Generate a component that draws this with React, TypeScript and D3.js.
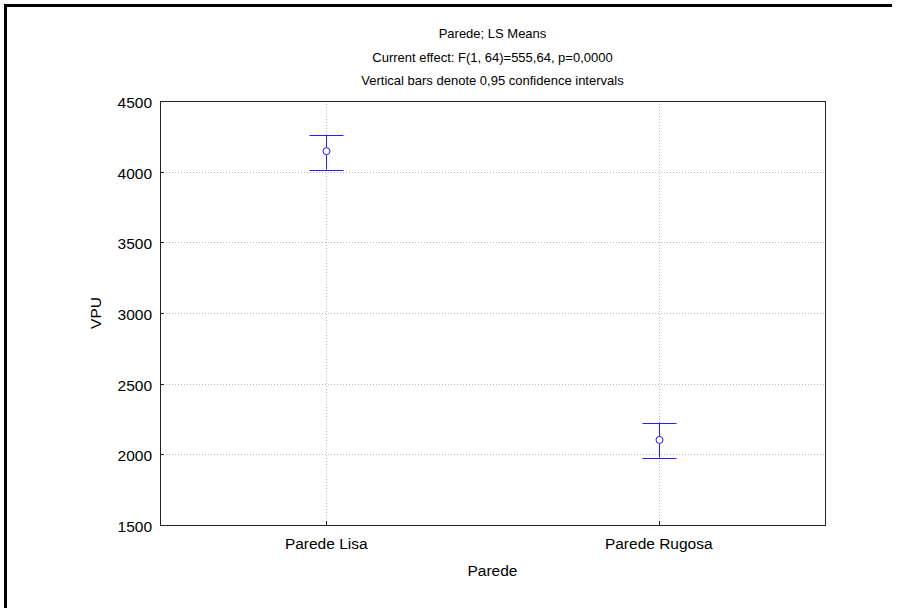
import React, { useEffect, useRef } from "react";
import * as d3 from "d3";

const titleLines = [
  "Parede; LS Means",
  "Current effect: F(1, 64)=555,64, p=0,0000",
  "Vertical bars denote 0,95 confidence intervals",
];
const categories = ["Parede Lisa", "Parede Rugosa"];
const means = [4145, 2102];
const lowerCI = [4015, 1976];
const upperCI = [4258, 2224];
const yTicks = [1500, 2000, 2500, 3000, 3500, 4000, 4500];

const App: React.FC = () => {
  const svgRef = useRef<SVGSVGElement | null>(null);

  useEffect(() => {
    if (!svgRef.current) return;
    const svg = d3.select(svgRef.current);
    svg.selectAll("*").remove();

    const width = 901;
    const height = 608;
    const margin = { top: 101, right: 76, bottom: 83, left: 160 };
    const plotWidth = width - margin.left - margin.right;
    const plotHeight = height - margin.top - margin.bottom;
    const font = "'Liberation Sans', Arial, sans-serif";
    const axisFont = "15.5px";

    svg.attr("width", width).attr("height", height).style("font-family", font);

    // outer frame (top and left only)
    svg
      .append("path")
      .attr("d", `M5.5,${height} L5.5,5.5 L892,5.5`)
      .attr("fill", "none")
      .attr("stroke", "#000")
      .attr("stroke-width", 3);

    // title
    svg
      .selectAll("text.title")
      .data(titleLines)
      .enter()
      .append("text")
      .attr("class", "title")
      .attr("x", margin.left + plotWidth / 2)
      .attr("y", (_, i) => 38 + i * 23.5)
      .attr("text-anchor", "middle")
      .style("font-size", "13px")
      .text((d) => d);

    const g = svg
      .append("g")
      .attr("transform", `translate(${margin.left},${margin.top})`);

    const xScale = d3
      .scalePoint<string>()
      .domain(categories)
      .range([0, plotWidth])
      .padding(0.5);

    const yScale = d3.scaleLinear().domain([1500, 4500]).range([plotHeight, 0]);

    // gridlines
    g.selectAll("line.hgrid")
      .data(yTicks.slice(1, -1))
      .enter()
      .append("line")
      .attr("x1", 0)
      .attr("x2", plotWidth)
      .attr("y1", (d) => Math.round(yScale(d)) + 0.5)
      .attr("y2", (d) => Math.round(yScale(d)) + 0.5)
      .attr("stroke", "#b8b8b8")
      .attr("stroke-dasharray", "1,2");

    g.selectAll("line.vgrid")
      .data(categories)
      .enter()
      .append("line")
      .attr("x1", (d) => Math.round(xScale(d)!) + 0.5)
      .attr("x2", (d) => Math.round(xScale(d)!) + 0.5)
      .attr("y1", 0)
      .attr("y2", plotHeight)
      .attr("stroke", "#b8b8b8")
      .attr("stroke-dasharray", "1,2");

    // frame
    g.append("rect")
      .attr("x", 0.5)
      .attr("y", 0.5)
      .attr("width", plotWidth)
      .attr("height", plotHeight)
      .attr("fill", "none")
      .attr("stroke", "#222")
      .attr("stroke-width", 1);

    // y ticks and labels
    g.selectAll("line.ytick")
      .data(yTicks)
      .enter()
      .append("line")
      .attr("x1", 0)
      .attr("x2", 4)
      .attr("y1", (d) => Math.round(yScale(d)) + 0.5)
      .attr("y2", (d) => Math.round(yScale(d)) + 0.5)
      .attr("stroke", "#222");

    g.selectAll("text.ylab")
      .data(yTicks)
      .enter()
      .append("text")
      .attr("x", -8)
      .attr("y", (d) => yScale(d) + 7)
      .attr("text-anchor", "end")
      .style("font-size", axisFont)
      .text((d) => d);

    // x ticks and labels
    g.selectAll("line.xtick")
      .data(categories)
      .enter()
      .append("line")
      .attr("x1", (d) => Math.round(xScale(d)!) + 0.5)
      .attr("x2", (d) => Math.round(xScale(d)!) + 0.5)
      .attr("y1", plotHeight)
      .attr("y2", plotHeight - 4)
      .attr("stroke", "#222");

    g.selectAll("text.xlab")
      .data(categories)
      .enter()
      .append("text")
      .attr("x", (d) => xScale(d)!)
      .attr("y", plotHeight + 24)
      .attr("text-anchor", "middle")
      .style("font-size", axisFont)
      .text((d) => d);

    // axis titles
    g.append("text")
      .attr("x", plotWidth / 2)
      .attr("y", plotHeight + 51)
      .attr("text-anchor", "middle")
      .style("font-size", axisFont)
      .text("Parede");

    g.append("text")
      .attr("transform", `translate(${-59},${plotHeight / 2}) rotate(-90)`)
      .attr("text-anchor", "middle")
      .style("font-size", axisFont)
      .text("VPU");

    // error bars
    const blue = "#2020ff";
    const capHalf = 17;
    categories.forEach((c, i) => {
      const x = Math.round(xScale(c)!) + 0.5;
      g.append("line")
        .attr("x1", x)
        .attr("x2", x)
        .attr("y1", yScale(lowerCI[i]))
        .attr("y2", yScale(upperCI[i]))
        .attr("stroke", blue);
      [lowerCI[i], upperCI[i]].forEach((v) => {
        g.append("line")
          .attr("x1", x - capHalf)
          .attr("x2", x + capHalf)
          .attr("y1", Math.round(yScale(v)) + 0.5)
          .attr("y2", Math.round(yScale(v)) + 0.5)
          .attr("stroke", blue);
      });
      g.append("circle")
        .attr("cx", x)
        .attr("cy", yScale(means[i]))
        .attr("r", 3.5)
        .attr("fill", "#fff")
        .attr("stroke", blue);
    });
  }, []);

  return (
    <div style={{ width: "901px", height: "608px", position: "absolute", left: 0, top: 0 }}>
      <svg ref={svgRef}></svg>
    </div>
  );
};

export default App;
